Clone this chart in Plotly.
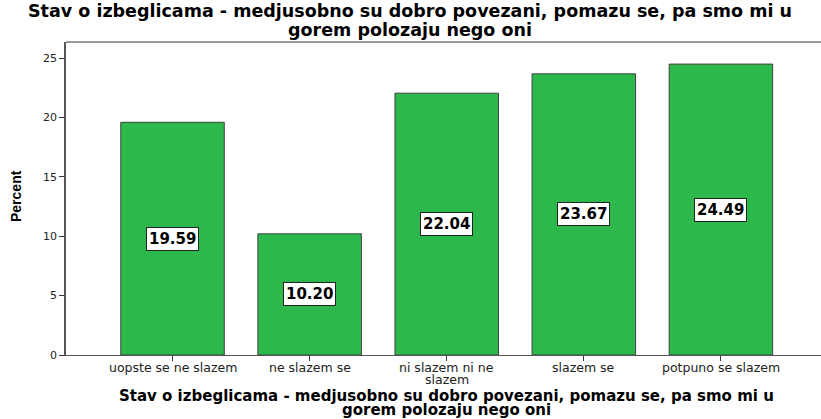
import plotly.graph_objects as go

categories = ["uopste se ne slazem", "ne slazem se", "ni slazem ni ne<br>slazem", "slazem se", "potpuno se slazem"]
values = [19.59, 10.20, 22.04, 23.67, 24.49]
labels = ["19.59", "10.20", "22.04", "23.67", "24.49"]
y_ticks = [0, 5, 10, 15, 20, 25]
title_line1 = "Stav o izbeglicama - medjusobno su dobro povezani, pomazu se, pa smo mi u"
title_line2 = "gorem polozaju nego oni"
y_title = "Percent"

W, H = 821, 419
L, R, T, B = 66, 0, 42, 64
PW, PH = W - L - R, H - T - B


def px(x):
    return (x - L) / PW


def py(y):
    return (H - B - y) / PH


x_idx = list(range(len(categories)))

fig = go.Figure()
fig.add_trace(go.Bar(
    x=x_idx, y=values, width=0.755,
    marker=dict(color="#2db84b", line=dict(color="#404040", width=1)),
    hoverinfo="skip",
))

for i, (v, t) in enumerate(zip(values, labels)):
    fig.add_annotation(
        x=i, y=v / 2, text="<b>" + t + "</b>", showarrow=False,
        font=dict(family="DejaVu Sans", size=15, color="black"),
        bgcolor="white", bordercolor="#222", borderwidth=1, borderpad=2,
    )

# category tick labels, one annotation per line for tight line spacing
for i, cat in enumerate(categories):
    for j, line in enumerate(cat.split("<br>")):
        fig.add_annotation(
            x=i, y=py(367 + 12 * j), xref="x", yref="paper",
            xanchor="center", yanchor="middle", showarrow=False,
            text=line, font=dict(family="DejaVu Sans", size=12.5, color="#222"),
        )

tfont = dict(family="DejaVu Sans", size=17.5, color="black")
bfont = dict(family="DejaVu Sans", size=15, color="black")
for txt, x, y, f in [(title_line1, 410, 11, tfont), (title_line2, 410, 30, tfont),
                     (title_line1, 447, 396, bfont), (title_line2, 447, 410, bfont)]:
    fig.add_annotation(x=px(x), y=py(y), xref="paper", yref="paper",
                       xanchor="center", yanchor="middle", showarrow=False,
                       text="<b>" + txt + "</b>", font=f)

fig.add_annotation(x=px(16), y=py(196), xref="paper", yref="paper",
                   xanchor="center", yanchor="middle", showarrow=False, textangle=-90,
                   text="<b>" + y_title + "</b>",
                   font=dict(family="Liberation Sans", size=14, color="black"))

fig.update_layout(
    width=W, height=H,
    margin=dict(l=L, r=R, t=T, b=B, autoexpand=False),
    paper_bgcolor="white", plot_bgcolor="white",
    showlegend=False,
    xaxis=dict(
        tickmode="array", tickvals=x_idx, showticklabels=False,
        range=[-0.777, 4.73], automargin=False,
        showline=True, linecolor="#555", linewidth=1,
        ticks="outside", ticklen=5, tickcolor="#333",
        showgrid=False, zeroline=False, fixedrange=True,
    ),
    yaxis=dict(
        range=[0, 26.35], tickvals=y_ticks, automargin=False,
        showline=True, linecolor="#555", linewidth=1.5,
        ticks="outside", ticklen=5, tickcolor="#333",
        tickfont=dict(family="DejaVu Sans", size=11, color="#222"),
        showgrid=False, zeroline=False, fixedrange=True,
    ),
    shapes=[dict(type="line", xref="paper", yref="paper", x0=0, x1=1, y0=1, y1=1,
                 line=dict(color="#999", width=2))],
)

fig.write_html("out.html", config={"displayModeBar": False},
               post_script="document.body.style.margin='0';document.body.style.overflow='hidden';")
